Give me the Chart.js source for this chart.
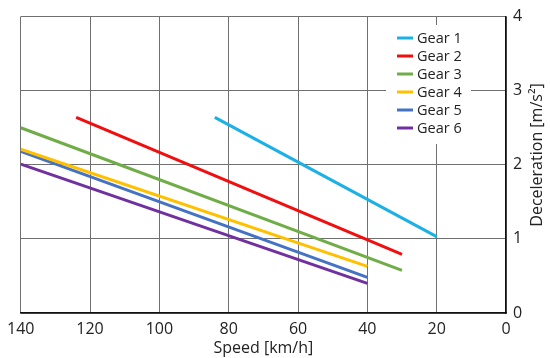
<!DOCTYPE html>
<html>
<head>
<meta charset="utf-8">
<script src="https://cdn.jsdelivr.net/npm/chart.js@4"></script>
<style>
  html, body { margin: 0; padding: 0; background: #fff; }
  #wrap { width: 550px; height: 358px; }
</style>
</head>
<body>
<div id="wrap"><canvas id="chGears"></canvas></div>
<script>
// values
var gears = ['Gear 1', 'Gear 2', 'Gear 3', 'Gear 4', 'Gear 5', 'Gear 6'];
var startSpeed = [84, 124, 140, 140, 140, 140];
var startDecel = [2.64, 2.64, 2.50, 2.21, 2.18, 2.01];
var endSpeed = [20, 30, 30, 40, 40, 40];
var endDecel = [1.03, 0.79, 0.575, 0.63, 0.48, 0.40];

// chart colors
var colors = ['#1BB0E6', '#F00E0E', '#70AD47', '#FFC000', '#4472C4', '#7030A0'];

var fontFamily = '"Open Sans", "DejaVu Sans", sans-serif';

var datasets = gears.map(function(name, i) {
  return {
    label: name,
    data: [{x: startSpeed[i], y: startDecel[i]}, {x: endSpeed[i], y: endDecel[i]}],
    borderColor: colors[i],
    backgroundColor: colors[i],
    borderWidth: 3,
    pointRadius: 0,
    tension: 0
  };
});

// legend drawn inside the plot, over a white box
var insideLegend = {
  id: 'insideLegend',
  afterDatasetsDraw: function(chart) {
    var ctx = chart.ctx;
    ctx.save();
    ctx.fillStyle = '#fff';
    ctx.fillRect(386, 25, 85, 119);
    ctx.font = '14.5px ' + fontFamily;
    ctx.textBaseline = 'middle';
    chart.data.datasets.forEach(function(ds, i) {
      var y = 38 + i * 18;
      ctx.strokeStyle = ds.borderColor;
      ctx.lineWidth = 3;
      ctx.beginPath();
      ctx.moveTo(397, y);
      ctx.lineTo(413, y);
      ctx.stroke();
      ctx.fillStyle = '#222';
      ctx.fillText(ds.label, 417, y + 0.5);
    });
    ctx.restore();
  }
};

// y title reads bottom to top
var rightTitle = {
  id: 'rightTitle',
  afterDraw: function(chart) {
    var ctx = chart.ctx;
    ctx.save();
    ctx.translate(537, 155);
    ctx.rotate(-Math.PI / 2);
    ctx.font = '16px ' + fontFamily;
    ctx.fillStyle = '#222';
    ctx.textAlign = 'center';
    ctx.textBaseline = 'middle';
    ctx.fillText('Deceleration [m/s\u00B2]', 0, 0);
    ctx.restore();
  }
};

new Chart(document.getElementById('chGears'), {
  type: 'line',
  data: { datasets: datasets },
  options: {
    responsive: true,
    maintainAspectRatio: false,
    animation: false,
    layout: { padding: { left: 18, top: 11, right: 0, bottom: 0 } },
    plugins: { legend: { display: false }, tooltip: { enabled: false } },
    scales: {
      x: {
        type: 'linear',
        reverse: true,
        min: 0,
        max: 140,
        ticks: { stepSize: 20, color: '#222', padding: 7, maxRotation: 0, font: { family: fontFamily, size: 16 } },
        grid: { color: '#707070', lineWidth: 1, drawTicks: false },
        border: { color: '#111', width: 1.5 },
        title: { display: true, text: 'Speed [km/h]', color: '#222', padding: { top: -9, bottom: 0 }, font: { family: fontFamily, size: 16 } },
        afterFit: function(scale) { scale.height = 45; }
      },
      y: {
        position: 'right',
        min: 0,
        max: 4,
        ticks: { stepSize: 1, color: '#222', padding: 7, font: { family: fontFamily, size: 16 } },
        grid: { color: '#707070', lineWidth: 1, drawTicks: false },
        border: { color: '#111', width: 1.5 },
        afterFit: function(scale) { scale.width = 44; }
      }
    }
  },
  plugins: [insideLegend, rightTitle]
});
</script>
</body>
</html>
